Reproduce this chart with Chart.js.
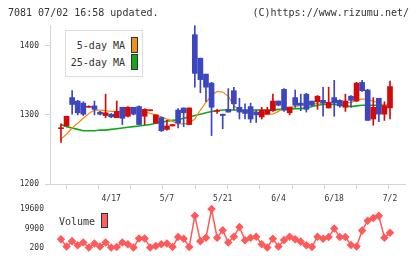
<!DOCTYPE html>
<html>
<head>
<meta charset="utf-8">
<script src="https://cdn.jsdelivr.net/npm/chart.js@4/dist/chart.umd.min.js"></script>
<style>
  body { margin: 0; background: #fff; font-family: "DejaVu Sans Mono", monospace; color: #333; }
  #wrap { position: relative; width: 420px; height: 259px; overflow: hidden; }
  canvas { position: absolute; left: 0; top: 0; }
  .txt { position: absolute; font-size: 10px; line-height: 12px; white-space: nowrap; }
  .sw { position: absolute; border: 1px solid #333; box-sizing: border-box; }
  #legend { position: absolute; left: 65px; top: 30px; width: 78px; height: 47px;
            border: 1px solid #dcdcdc; background: #fff; box-sizing: border-box; }
</style>
</head>
<body>
<div id="wrap">
  <canvas id="priceChart" width="420" height="259"></canvas>
  <canvas id="volChart" width="420" height="259"></canvas>
  <div class="txt" style="left:8px; top:7px;">7081 07/02 16:58 updated.</div>
  <div class="txt" style="right:11px; top:7px;">(C)https://www.rizumu.net/</div>
  <div id="legend"></div>
  <div class="txt" style="right:295px; top:40px;">5-day MA</div>
  <div class="sw" style="left:131px; top:37px; width:7px; height:16px; background:#f0901e;"></div>
  <div class="txt" style="right:295px; top:57px;">25-day MA</div>
  <div class="sw" style="left:131px; top:54px; width:7px; height:16px; background:#12a81a;"></div>
  <div class="txt" style="left:59px; top:216px;">Volume</div>
  <div class="sw" style="left:101px; top:213px; width:7px; height:15px; background:#ff5f5f;"></div>
</div>
<script>
// daily candles, oldest first (60 trading days up to 7/2)
const opens  = [1280,1284,1325,1320,1317,1311,1313,1304,1299,1301,1296,1311,1298,1311,1312,1298,1306,1288,1296,1279,
                1284,1307,1310,1286,1416,1382,1359,1346,1305,1301,1308,1335,1311,1307,1312,1304,1297,1301,1306,1320,
                1337,1303,1325,1317,1330,1320,1319,1321,1310,1325,1321,1311,1327,1320,1347,1336,1294,1324,1301,1310];
const highs  = [1287,1298,1335,1321,1319,1313,1320,1305,1330,1302,1320,1311,1312,1311,1313,1309,1307,1300,1297,1292,
                1286,1309,1310,1310,1429,1382,1359,1347,1308,1301,1338,1340,1324,1316,1317,1307,1311,1311,1330,1320,
                1338,1311,1336,1330,1331,1320,1328,1340,1340,1350,1322,1330,1328,1347,1350,1337,1325,1324,1319,1349];
const lows   = [1260,1284,1301,1300,1299,1311,1300,1300,1296,1296,1296,1286,1297,1300,1286,1286,1306,1288,1276,1278,
                1284,1281,1283,1286,1340,1332,1319,1270,1302,1280,1304,1307,1294,1294,1289,1289,1294,1301,1305,1313,
                1305,1300,1311,1306,1304,1313,1308,1298,1310,1298,1311,1305,1311,1319,1334,1292,1285,1290,1292,1294];
const closes = [1281,1298,1315,1303,1301,1312,1308,1301,1303,1297,1305,1295,1311,1301,1286,1308,1307,1300,1277,1284,
                1286,1288,1303,1310,1360,1351,1340,1311,1306,1299,1304,1316,1304,1302,1294,1300,1307,1307,1320,1314,
                1307,1311,1314,1314,1308,1314,1327,1317,1318,1317,1313,1320,1321,1346,1335,1292,1311,1301,1313,1341];
const ma5    = [1265,1272,1281,1288,1295,1302,1307,1307,1306,1305,1305,1305,1307,1308,1306,1305,1302,1300,1297,1294,
                1291,1287,1287,1288,1294,1307,1318,1328,1334,1333,1327,1313,1307,1306,1305,1304,1302,1301,1301,1305,
                1310,1311,1312,1314,1315,1315,1317,1317,1318,1318,1318,1317,1318,1321,1323,1322,1320,1317,1314,1312];
const ma25   = [1286,1283,1281,1279,1277,1277,1277,1278,1278,1279,1280,1281,1282,1283,1284,1285,1286,1288,1289,1291,
                1292,1293,1295,1297,1299,1301,1303,1305,1306,1307,1307,1307,1307,1307,1307,1307,1307,1307,1307,1308,
                1308,1308,1309,1309,1310,1312,1314,1315,1315,1315,1314,1313,1312,1313,1314,1314,1314,1314,1314,1314];
const volumes = [4600,1000,3700,1650,3000,550,2500,1000,3000,550,850,3000,2100,550,5050,5050,550,1300,2100,2500,
                 850,5700,4900,850,16200,3700,5400,19600,5400,9100,3000,5900,10700,4100,5400,5900,2100,550,4900,1000,
                 4200,5900,4600,3450,1650,850,5900,4900,5700,9900,5700,5700,1800,1000,8900,13800,15100,16200,5400,7800];

const dateLabels = ['4/17', '5/7', '5/21', '6/4', '6/18', '7/2'];
const dateIdx    = [9, 19, 29, 39, 49, 59];
const priceTicks = [1200, 1300, 1400];
const volTicks   = [200, 9900, 19600];

const RED = '#d40a0a', BLUE = '#3c46be', GRID = '#d4d4d4';
const X_MIN = -1.97, X_MAX = 61.69;
// 11 evenly spaced tick marks along the bottom axis
const markTicks = [];
for (let n = 1; n <= 11; n++) markTicks.push(X_MIN + n * (X_MAX - X_MIN) / 11);

Chart.defaults.font.family = '"DejaVu Sans Mono", monospace';
Chart.defaults.font.size = 8;
Chart.defaults.color = '#333';

const colors = closes.map((c, i) => c >= opens[i] ? RED : BLUE);

new Chart(document.getElementById('priceChart'), {
    type: 'bar',
    data: {
        datasets: [{
            type: 'bar',
            data: opens.map((o, i) => ({ x: i, y: [o, closes[i]] })),
            backgroundColor: colors,
            barThickness: 5,
            minBarLength: 1,
            grouped: false,
            order: 1
        }, {
            type: 'bar',
            data: lows.map((l, i) => ({ x: i, y: [l, highs[i]] })),
            backgroundColor: colors,
            barThickness: 1,
            grouped: false,
            order: 2
        }, {
            type: 'line',
            data: ma5.map((v, i) => ({ x: i, y: v })),
            borderColor: '#f0901e',
            borderWidth: 1.3,
            pointRadius: 0,
            order: 3
        }, {
            type: 'line',
            data: ma25.map((v, i) => ({ x: i, y: v })),
            borderColor: '#12a81a',
            borderWidth: 1.6,
            pointRadius: 0,
            order: 4
        }]
    },
    options: {
        responsive: false,
        animation: false,
        devicePixelRatio: 1,
        layout: { padding: { top: 25, bottom: 55, left: 0, right: 15 } },
        plugins: { legend: { display: false }, tooltip: { enabled: false } },
        scales: {
            x: {
                type: 'linear',
                min: X_MIN,
                max: X_MAX,
                offset: false,
                afterBuildTicks: s => {
                    s.ticks = markTicks.concat(dateIdx).map(v => ({ value: v }));
                },
                afterFit: s => { s.height = 20; },
                ticks: {
                    autoSkip: false,
                    maxRotation: 0,
                    padding: 5,
                    callback: v => {
                        const k = dateIdx.indexOf(v);
                        return k >= 0 ? dateLabels[k] : '';
                    }
                },
                grid: {
                    drawOnChartArea: false,
                    tickLength: 5,
                    tickColor: c => (c.tick && dateIdx.indexOf(c.tick.value) >= 0) ? 'rgba(0,0,0,0)' : GRID
                },
                border: { color: GRID }
            },
            y: {
                min: 1200,
                max: 1430,
                afterBuildTicks: s => { s.ticks = priceTicks.map(v => ({ value: v })); },
                afterFit: s => { s.width = 50; },
                ticks: { padding: 6, callback: v => String(v) },
                grid: { drawOnChartArea: false, tickLength: 5, color: GRID },
                border: { color: GRID }
            }
        }
    }
});

new Chart(document.getElementById('volChart'), {
    type: 'line',
    data: {
        datasets: [{
            data: volumes.map((v, i) => ({ x: i, y: v })),
            borderColor: '#ff5a5a',
            backgroundColor: '#ff5a5a',
            borderWidth: 1.5,
            pointStyle: 'rectRot',
            pointRadius: 3.2,
            clip: false
        }]
    },
    options: {
        responsive: false,
        animation: false,
        devicePixelRatio: 1,
        layout: { padding: { top: 209, bottom: 10, left: 0, right: 15 } },
        plugins: { legend: { display: false }, tooltip: { enabled: false } },
        scales: {
            x: { type: 'linear', min: X_MIN, max: X_MAX, display: false },
            y: {
                min: 200,
                max: 19600,
                afterBuildTicks: s => { s.ticks = volTicks.map(v => ({ value: v })); },
                afterFit: s => { s.width = 50; },
                ticks: { padding: 6, callback: v => String(v) },
                grid: { display: false, drawTicks: false },
                border: { display: false }
            }
        }
    }
});
</script>
</body>
</html>
